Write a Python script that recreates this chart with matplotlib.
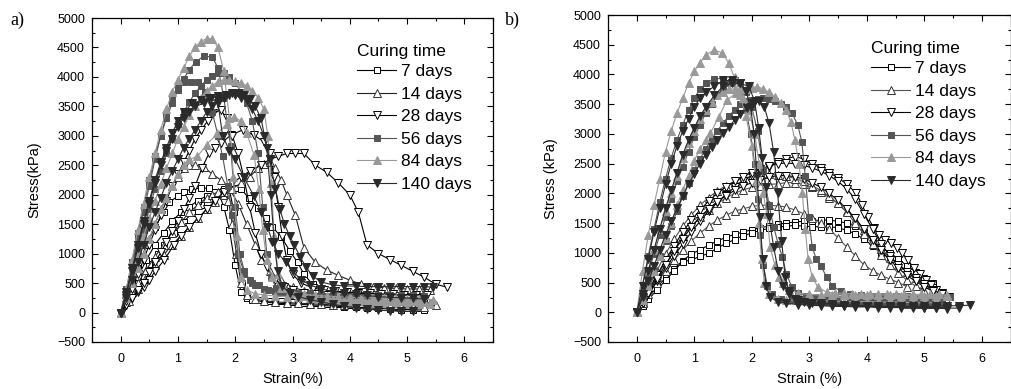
import matplotlib
matplotlib.use("Agg")
import matplotlib.pyplot as plt
from matplotlib.ticker import MultipleLocator

plt.rcParams['font.family'] = ['Liberation Sans', 'DejaVu Sans']

# ---------------- DATA: panel a ----------------
a_7d_strain = [
    [0,0.15,0.3,0.45,0.6,0.75,0.85,1.0,1.1,1.25,1.4,1.55,1.7,1.8,1.9,2.0,2.1,2.2,2.4,2.6,2.8,3.0,3.2,3.4,3.6,3.8,4.0,4.2,4.4,4.6,4.8,5.0,5.2],
    [0,0.15,0.3,0.5,0.65,0.76,0.93,1.1,1.25,1.4,1.55,1.7,1.85,2.01,2.1,2.24,2.4,2.53,2.65,2.8,2.95,3.09,3.2,3.35,3.5,3.7,3.9,4.1,4.3,4.5,4.7,4.9,5.1,5.3],
    [0,0.15,0.3,0.45,0.6,0.75,0.9,1.05,1.2,1.35,1.5,1.65,1.8,1.9,1.98,2.05,2.12,2.2,2.3,2.5,2.7,2.9,3.1,3.3,3.5,3.7,3.9,4.1,4.3,4.5,4.7,4.9,5.1,5.3],
]
a_7d_stress = [
    [0,350,750,1150,1450,1700,1870,1980,2050,2100,2110,2110,2050,1800,1400,800,350,250,220,200,190,180,170,160,150,140,130,120,110,100,90,80,70],
    [0,250,550,830,1000,1150,1350,1540,1690,1820,1930,2020,2080,2110,2100,1940,1780,1600,1450,1290,1050,850,650,480,400,350,320,300,290,280,270,260,250,240],
    [0,300,600,900,1150,1350,1550,1700,1800,1900,1980,2050,2100,2080,1700,1000,500,300,220,180,160,150,140,130,120,110,100,90,80,70,60,50,50,40],
]
a_14d_strain = [
    [0,0.1,0.2,0.3,0.4,0.5,0.6,0.7,0.8,0.9,1.0,1.1,1.2,1.3,1.45,1.6,1.75,1.9,2.05,2.2,2.35,2.45,2.6,2.8,3.0,3.2,3.4,3.6,3.8,4.0,4.2,4.4,4.6,4.8,5.0,5.2,5.4],
    [0,0.15,0.3,0.45,0.6,0.75,0.9,1.05,1.2,1.35,1.5,1.65,1.8,1.95,2.1,2.25,2.4,2.5,2.6,2.7,2.8,2.9,3.05,3.2,3.4,3.6,3.8,4.0,4.2,4.4,4.6,4.8,5.0,5.2,5.4],
    [0,0.1,0.2,0.3,0.45,0.6,0.75,0.9,1.05,1.2,1.35,1.5,1.6,1.7,1.8,1.88,1.95,2.02,2.1,2.2,2.35,2.5,2.7,2.9,3.1,3.3,3.5,3.7,3.9,4.1,4.3,4.5,4.7,4.9,5.1,5.3,5.5],
]
a_14d_stress = [
    [0,250,500,750,1000,1250,1500,1750,1950,2150,2300,2450,2500,2500,2470,2350,2250,2100,1850,1500,1150,900,700,550,430,370,330,300,280,260,240,220,200,190,180,170,160],
    [0,200,400,600,800,980,1150,1300,1450,1600,1750,1880,2000,2100,2200,2300,2450,2520,2550,2450,2250,2000,1650,1100,850,720,630,550,480,440,420,410,400,400,390],
    [0,180,350,500,730,950,1150,1350,1530,1700,1830,1950,2000,2050,2050,1900,1500,1000,500,300,230,200,180,170,160,150,140,130,125,120,115,110,105,100,100,100,120],
]
a_28d_strain = [
    [0,0.1,0.2,0.3,0.41,0.5,0.6,0.76,0.93,1.05,1.2,1.35,1.5,1.65,1.8,1.95,2.1,2.25,2.45,2.6,2.75,2.9,3.05,3.2,3.4,3.6,3.8,4.0,4.15,4.3,4.5,4.7,4.9,5.1,5.3,5.5,5.7],
    [0,0.1,0.2,0.3,0.4,0.5,0.6,0.7,0.8,0.9,1.0,1.1,1.2,1.3,1.42,1.54,1.65,1.75,1.92,2.13,2.33,2.5,2.6,2.68,2.75,2.82,2.9,3.0,3.15,3.35,3.55,3.75,3.95,4.15,4.35,4.55,4.75,4.95,5.15,5.35],
    [0,0.1,0.2,0.3,0.4,0.5,0.6,0.7,0.8,0.9,1.0,1.1,1.2,1.3,1.4,1.52,1.62,1.75,1.85,1.95,2.05,2.15,2.25,2.35,2.45,2.55,2.7,2.85,3.0,3.2,3.4,3.6,3.8,4.0,4.2,4.4,4.6,4.8,5.0,5.2],
]
a_28d_stress = [
    [0,120,250,350,440,550,700,890,1150,1300,1450,1600,1750,1900,2050,2200,2300,2400,2500,2600,2650,2700,2700,2700,2500,2380,2200,2000,1700,1150,1000,900,800,700,600,480,430],
    [0,130,250,380,500,680,850,1020,1200,1380,1550,1750,1950,2150,2450,2700,2800,2870,3010,3100,3010,2900,2700,2300,1800,1300,900,650,500,420,380,360,350,340,330,320,310,300,300,290],
    [0,200,400,650,900,1150,1400,1650,1900,2150,2350,2550,2750,2950,3100,3250,3380,3440,3300,3000,2700,2300,1800,1350,1000,780,560,440,380,340,320,300,290,280,270,260,250,250,240,240],
]
a_56d_strain = [
    [0,0.1,0.2,0.3,0.4,0.5,0.6,0.7,0.8,0.9,1.0,1.1,1.2,1.31,1.45,1.6,1.7,1.8,1.92,2.0,2.08,2.16,2.25,2.35,2.5,2.7,2.9,3.1,3.3,3.5,3.7,3.9,4.1,4.3,4.5,4.7,4.9,5.1,5.3],
    [0,0.1,0.2,0.3,0.4,0.5,0.6,0.7,0.8,0.9,1.0,1.1,1.22,1.35,1.48,1.6,1.7,1.78,1.87,1.95,2.05,2.16,2.3,2.42,2.57,2.75,2.95,3.15,3.35,3.55,3.75,3.95,4.15,4.35,4.55,4.75,4.95,5.15],
    [0,0.1,0.2,0.3,0.4,0.5,0.6,0.7,0.8,0.9,1.0,1.1,1.2,1.3,1.4,1.5,1.6,1.7,1.8,1.9,2.0,2.1,2.2,2.3,2.4,2.48,2.55,2.62,2.72,2.85,3.0,3.2,3.4,3.6,3.8,4.0,4.2,4.4,4.6,4.8,5.0,5.2],
]
a_56d_stress = [
    [0,400,850,1350,1800,2250,2650,3000,3300,3550,3780,3970,4120,4260,4350,4340,4150,3650,2820,1800,1000,700,560,470,400,370,350,340,330,320,320,310,310,300,300,300,290,290,280],
    [0,350,800,1250,1700,2150,2600,3000,3350,3650,3850,3920,3920,3920,3750,3400,3000,2650,2150,1650,1000,660,500,460,380,330,300,280,260,250,240,230,220,210,200,200,190,190],
    [0,350,700,1050,1400,1750,2100,2400,2700,2950,3200,3400,3580,3720,3850,3950,4020,4060,4060,4000,3900,3750,3550,3250,2700,1800,1000,600,420,350,310,290,270,260,250,240,230,220,210,200,200,190],
]
a_84d_strain = [
    [0,0.1,0.2,0.3,0.4,0.5,0.6,0.7,0.8,0.9,1.0,1.1,1.2,1.3,1.4,1.5,1.6,1.7,1.8,1.9,1.97,2.03,2.1,2.2,2.35,2.5,2.7,2.9,3.1,3.3,3.5,3.7,3.9,4.1,4.3,4.5,4.7,4.9,5.1,5.3],
    [0,0.1,0.2,0.3,0.4,0.5,0.6,0.7,0.8,0.9,1.0,1.1,1.2,1.3,1.4,1.5,1.6,1.7,1.8,1.9,2.0,2.1,2.2,2.3,2.4,2.5,2.57,2.63,2.68,2.75,2.85,3.0,3.2,3.4,3.6,3.8,4.0,4.2,4.4,4.6,4.8,5.0,5.2,5.45],
    [0,0.1,0.2,0.3,0.4,0.5,0.6,0.7,0.8,0.9,1.0,1.1,1.2,1.34,1.5,1.69,1.85,1.98,2.1,2.2,2.33,2.41,2.48,2.55,2.65,2.8,3.0,3.2,3.4,3.6,3.8,4.0,4.2,4.4,4.6,4.8,5.0,5.2,5.4],
]
a_84d_stress = [
    [0,400,900,1400,1850,2300,2700,3100,3450,3750,3950,4150,4350,4500,4600,4650,4650,4500,4100,3300,2300,1300,600,380,320,300,280,270,260,250,240,230,220,210,210,200,200,190,190,180],
    [0,330,650,980,1300,1600,1900,2180,2450,2700,2950,3150,3350,3500,3650,3760,3850,3920,3950,3950,3930,3900,3850,3760,3650,3450,3000,2200,1300,650,420,340,310,290,280,270,260,250,250,240,240,230,230,220],
    [0,250,500,750,1000,1250,1500,1750,1950,2150,2350,2500,2600,2650,2850,3040,3200,3320,3250,3050,2670,2100,1400,900,600,420,330,280,250,230,210,200,190,180,170,160,150,150,140],
]
a_140d_strain = [
    [0,0.1,0.2,0.3,0.4,0.5,0.6,0.7,0.8,0.9,1.0,1.1,1.2,1.3,1.45,1.57,1.7,1.84,1.94,2.04,2.15,2.25,2.35,2.45,2.55,2.62,2.68,2.74,2.82,2.95,3.1,3.3,3.5,3.7,3.9,4.1,4.3,4.5,4.7,4.9,5.1],
    [0,0.1,0.2,0.3,0.4,0.5,0.6,0.7,0.8,0.9,1.0,1.1,1.25,1.4,1.55,1.7,1.78,1.9,2.0,2.15,2.33,2.45,2.56,2.65,2.75,2.88,3.0,3.15,3.3,3.5,3.7,3.9,4.1,4.3,4.5,4.7,4.9,5.1,5.3],
    [0,0.1,0.2,0.3,0.4,0.5,0.6,0.7,0.8,0.9,1.0,1.1,1.2,1.3,1.4,1.5,1.6,1.7,1.8,1.9,2.0,2.1,2.2,2.3,2.4,2.5,2.6,2.7,2.78,2.86,2.95,3.03,3.13,3.23,3.35,3.5,3.7,3.9,4.1,4.3,4.5,4.7,4.9,5.1,5.3,5.45],
]
a_140d_stress = [
    [0,300,700,1100,1500,1850,2200,2500,2750,2950,3150,3300,3400,3500,3550,3640,3680,3700,3720,3720,3690,3620,3500,3300,2800,2000,1200,700,450,330,270,220,180,140,110,80,60,40,30,20,20],
    [0,350,750,1150,1550,1900,2250,2550,2800,3050,3250,3400,3550,3600,3650,3550,3000,2750,2600,2300,1970,1700,1460,1200,1000,860,700,560,470,400,360,330,310,290,270,260,250,240,230],
    [0,250,550,850,1150,1450,1700,1950,2200,2400,2600,2800,2950,3100,3250,3400,3500,3600,3650,3700,3700,3650,3600,3450,3250,3000,2600,2100,1750,1500,1300,1150,950,780,620,520,470,450,450,440,440,440,440,440,440,430],
]

# ---------------- DATA: panel b ----------------
b_7d_strain = [
    [0,0.1,0.2,0.35,0.5,0.65,0.8,0.95,1.1,1.25,1.4,1.55,1.7,1.85,2.0,2.15,2.3,2.45,2.6,2.75,2.9,3.05,3.2,3.35,3.5,3.65,3.8,3.95,4.1,4.25,4.4,4.55,4.7,4.85,5.0,5.15],
    [0,0.1,0.2,0.35,0.5,0.65,0.8,0.95,1.1,1.25,1.4,1.55,1.7,1.85,2.0,2.15,2.3,2.45,2.6,2.75,2.9,3.05,3.2,3.35,3.5,3.65,3.8,3.95,4.1,4.25,4.4,4.55,4.7,4.85,5.0,5.15],
]
b_7d_stress = [
    [0,120,250,420,580,730,870,980,1050,1130,1200,1260,1310,1350,1390,1420,1450,1480,1500,1520,1530,1540,1550,1550,1530,1500,1450,1350,1200,1100,1000,900,780,680,580,500],
    [0,100,220,370,540,700,850,880,940,990,1080,1160,1220,1290,1330,1380,1410,1430,1450,1460,1450,1440,1440,1440,1420,1380,1320,1230,1120,1000,900,800,700,600,500,420],
]
b_14d_strain = [
    [0,0.1,0.2,0.35,0.5,0.65,0.8,0.95,1.1,1.25,1.4,1.55,1.7,1.85,2.0,2.15,2.3,2.45,2.6,2.75,2.9,3.05,3.2,3.35,3.5,3.65,3.8,3.95,4.1,4.25,4.4,4.55,4.7,4.85,5.0,5.15],
    [0,0.1,0.2,0.35,0.5,0.65,0.8,0.95,1.1,1.25,1.4,1.55,1.7,1.85,2.0,2.15,2.3,2.45,2.6,2.75,2.9,3.05,3.2,3.35,3.5,3.65,3.8,3.95,4.1,4.25,4.4,4.55,4.7],
    [0,0.1,0.2,0.35,0.5,0.65,0.8,0.95,1.1,1.25,1.4,1.55,1.7,1.85,2.0,2.15,2.3,2.45,2.6,2.75,2.9,3.05,3.2,3.35,3.5,3.65,3.8,3.95,4.1,4.25,4.4,4.55,4.7,4.85,5.0],
]
b_14d_stress = [
    [0,180,350,600,850,1080,1280,1450,1600,1720,1830,1920,2000,2060,2100,2130,2150,2160,2180,2180,2150,2100,2020,1930,1830,1700,1550,1380,1220,1060,920,800,680,570,470,380],
    [0,150,300,500,700,880,1050,1200,1330,1450,1550,1630,1700,1740,1780,1800,1800,1790,1770,1720,1660,1590,1500,1400,1250,1100,950,800,700,620,560,500,430],
    [0,200,400,700,980,1230,1450,1640,1800,1930,2040,2130,2200,2250,2290,2310,2320,2310,2290,2250,2200,2130,2050,1950,1830,1680,1500,1320,1140,960,800,660,540,440,360],
]
b_28d_strain = [
    [0,0.1,0.2,0.35,0.5,0.65,0.8,0.95,1.1,1.25,1.4,1.55,1.7,1.85,2.0,2.15,2.3,2.45,2.6,2.75,2.9,3.05,3.2,3.35,3.5,3.65,3.82,3.92,4.02,4.12,4.22,4.32,4.42,4.52,4.62,4.72,4.82,4.92,5.03,5.12,5.2,5.3,5.43],
    [0,0.1,0.2,0.35,0.5,0.65,0.8,0.95,1.1,1.25,1.4,1.55,1.7,1.85,2.0,2.15,2.3,2.45,2.6,2.75,2.9,3.05,3.2,3.35,3.5,3.65,3.8,3.95,4.1,4.25,4.4,4.55,4.7,4.85,5.0,5.15,5.3],
    [0,0.1,0.2,0.35,0.5,0.65,0.8,0.95,1.1,1.25,1.4,1.55,1.7,1.85,2.0,2.15,2.3,2.45,2.6,2.75,2.9,3.05,3.2,3.35,3.5,3.65,3.8,3.95,4.1,4.25,4.4,4.55,4.7,4.85,5.0,5.15],
]
b_28d_stress = [
    [0,150,300,520,750,950,1150,1350,1530,1700,1850,1980,2100,2200,2300,2380,2450,2520,2580,2620,2580,2500,2430,2350,2260,2160,2000,1800,1600,1420,1300,1220,1160,1080,990,880,740,640,543,460,375,320,263],
    [0,180,370,620,880,1120,1350,1550,1720,1870,2000,2110,2200,2280,2350,2410,2460,2500,2510,2500,2470,2430,2370,2300,2200,2080,1900,1650,1400,1150,950,800,680,570,470,380,300],
    [0,160,330,560,800,1030,1240,1430,1600,1740,1860,1960,2050,2120,2180,2230,2270,2300,2300,2280,2240,2180,2100,2000,1880,1740,1580,1400,1220,1040,880,740,620,520,430,350],
]
b_56d_strain = [
    [0,0.1,0.2,0.3,0.4,0.5,0.6,0.7,0.8,0.9,1.0,1.1,1.2,1.35,1.5,1.65,1.8,1.9,1.98,2.05,2.1,2.15,2.2,2.27,2.35,2.5,2.7,2.9,3.1,3.3,3.5,3.7,3.9,4.1,4.3,4.5,4.7,4.9,5.1,5.3],
    [0,0.1,0.2,0.3,0.4,0.5,0.6,0.7,0.8,0.9,1.0,1.1,1.2,1.3,1.4,1.5,1.6,1.7,1.8,1.9,2.0,2.1,2.2,2.3,2.4,2.5,2.6,2.7,2.8,2.87,2.93,2.99,3.05,3.12,3.2,3.3,3.4,3.55,3.7,3.9,4.1,4.3,4.5,4.7,4.9,5.1,5.3,5.45],
    [0,0.1,0.2,0.3,0.4,0.5,0.6,0.7,0.8,0.9,1.0,1.1,1.2,1.3,1.4,1.5,1.6,1.7,1.8,1.9,2.0,2.1,2.2,2.3,2.38,2.46,2.53,2.6,2.7,2.8,2.95,3.1,3.3,3.5,3.7,3.9,4.1,4.3,4.5,4.7,4.9,5.1,5.3],
]
b_56d_stress = [
    [0,450,950,1400,1850,2250,2600,2900,3150,3400,3600,3750,3850,3930,3930,3850,3650,3400,3000,2500,1900,1300,800,450,300,220,200,190,180,170,160,160,150,150,140,140,130,130,120,120],
    [0,230,450,700,950,1200,1450,1700,1950,2180,2400,2580,2750,2900,3050,3180,3300,3400,3500,3550,3570,3590,3600,3590,3560,3500,3450,3350,3150,2870,2300,1600,1100,900,780,600,450,350,300,290,280,280,270,270,260,260,250,250],
    [0,320,650,980,1300,1600,1900,2200,2450,2700,2950,3150,3350,3500,3650,3780,3850,3900,3850,3700,3450,3050,2400,1800,1440,1150,935,650,420,330,270,250,230,220,210,200,200,190,190,180,180,170,170],
]
b_84d_strain = [
    [0,0.1,0.2,0.3,0.4,0.5,0.6,0.7,0.8,0.9,1.0,1.1,1.2,1.35,1.49,1.6,1.7,1.8,1.9,2.0,2.07,2.12,2.17,2.22,2.3,2.45,2.6,2.8,3.0,3.2,3.4,3.6,3.8,4.0,4.2,4.4,4.6,4.8,5.0,5.2],
    [0,0.1,0.2,0.3,0.4,0.5,0.6,0.7,0.8,0.9,1.0,1.1,1.2,1.3,1.4,1.5,1.6,1.7,1.8,1.9,2.0,2.09,2.2,2.3,2.4,2.5,2.6,2.68,2.75,2.82,2.88,2.93,2.98,3.05,3.15,3.3,3.45,3.6,3.75,3.9,4.05,4.2,4.35,4.5,4.65,4.8,4.95,5.1,5.25,5.4],
    [0,0.1,0.2,0.3,0.4,0.5,0.6,0.7,0.8,0.9,1.0,1.1,1.2,1.28,1.43,1.57,1.72,1.85,1.95,2.05,2.13,2.2,2.26,2.32,2.4,2.48,2.55,2.65,2.8,3.0,3.2,3.4,3.6,3.8,4.0,4.2,4.4,4.6,4.8,5.0,5.2,5.4],
]
b_84d_stress = [
    [0,700,1300,1800,2250,2700,3050,3350,3600,3850,4050,4200,4330,4410,4360,4190,3950,3650,3300,2800,2200,1500,900,500,300,230,210,200,200,190,190,180,180,180,170,170,170,160,160,160],
    [0,350,700,1050,1400,1700,2000,2300,2600,2850,3050,3250,3400,3530,3650,3700,3750,3760,3750,3760,3780,3790,3760,3700,3620,3520,3400,3200,2900,2500,2000,1400,900,600,420,340,320,320,310,310,310,310,310,310,300,300,300,300,300,290],
    [0,200,450,700,950,1250,1500,1800,2050,2300,2550,2750,2900,3010,3290,3570,3680,3600,3400,3000,2500,2000,1660,1100,800,600,490,380,320,300,290,290,290,290,290,290,290,280,280,280,280,270],
]
b_140d_strain = [
    [0,0.1,0.2,0.3,0.4,0.5,0.6,0.7,0.8,0.9,1.0,1.1,1.2,1.35,1.5,1.65,1.8,1.9,1.98,2.04,2.09,2.14,2.19,2.25,2.32,2.45,2.6,2.8,3.0,3.2,3.4,3.6,3.8,4.0,4.2,4.4,4.6,4.8,5.0,5.2,5.4],
    [0,0.1,0.2,0.3,0.4,0.5,0.6,0.7,0.8,0.9,1.0,1.1,1.2,1.3,1.4,1.5,1.6,1.7,1.8,1.92,2.02,2.12,2.22,2.3,2.38,2.45,2.52,2.58,2.65,2.75,2.9,3.05,3.2,3.4,3.6,3.8,4.0,4.2,4.4,4.6,4.8,5.0,5.2,5.4,5.6],
    [0,0.1,0.2,0.3,0.4,0.5,0.6,0.7,0.8,0.9,1.0,1.1,1.2,1.35,1.5,1.65,1.8,1.95,2.05,2.12,2.18,2.24,2.3,2.38,2.46,2.55,2.65,2.8,3.0,3.2,3.4,3.6,3.8,4.0,4.2,4.4,4.6,4.8,5.0,5.2,5.4,5.6,5.8],
]
b_140d_stress = [
    [0,450,900,1350,1750,2150,2500,2800,3050,3250,3450,3600,3700,3800,3900,3900,3850,3720,3450,3000,2300,1600,900,450,250,180,150,130,120,110,100,100,90,90,80,80,80,70,70,70,60],
    [0,250,520,780,1050,1300,1530,1750,1950,2150,2330,2500,2650,2780,2900,3010,3120,3230,3330,3430,3520,3560,3450,3180,2700,2000,1200,600,350,220,180,160,150,140,130,120,110,100,100,90,90,80,80,70,70],
    [0,300,700,1050,1400,1750,2050,2350,2650,2900,3100,3300,3450,3650,3800,3850,3850,3800,3550,3100,2600,2100,1600,1100,700,450,300,200,150,130,120,110,100,100,100,100,100,100,100,100,110,110,120],
]

labels = ['7 days', '14 days', '28 days', '56 days', '84 days', '140 days']
x_ticks = [0, 1, 2, 3, 4, 5, 6]
y_ticks = [-500, 0, 500, 1000, 1500, 2000, 2500, 3000, 3500, 4000, 4500, 5000]

panel_a = [(a_7d_strain, a_7d_stress), (a_14d_strain, a_14d_stress), (a_28d_strain, a_28d_stress),
           (a_56d_strain, a_56d_stress), (a_84d_strain, a_84d_stress), (a_140d_strain, a_140d_stress)]
panel_b = [(b_7d_strain, b_7d_stress), (b_14d_strain, b_14d_stress), (b_28d_strain, b_28d_stress),
           (b_56d_strain, b_56d_stress), (b_84d_strain, b_84d_stress), (b_140d_strain, b_140d_stress)]

def styles(line14):
    return [
        dict(marker='s', mfc='white', mec='black', color='black', ms=4.2),
        dict(marker='^', mfc='white', mec='#333333', color=line14, ms=5.2),
        dict(marker='v', mfc='white', mec='black', color='black', ms=5.2),
        dict(marker='s', mfc='#555555', mec='#555555', color='#555555', ms=4.2),
        dict(marker='^', mfc='#999999', mec='#999999', color='#999999', ms=5.2),
        dict(marker='v', mfc='#2a2a2a', mec='#2a2a2a', color='#2a2a2a', ms=5.2),
    ]

W, H = 1011, 389
fig = plt.figure(figsize=(W / 100, H / 100), dpi=100)

def px_axes(l, r, t, b):
    return fig.add_axes([l / W, 1 - b / H, (r - l) / W, (b - t) / H])

def draw(ax, panel, stl, xlabel, ylabel, leg_xy):
    handles = []
    for (sx, sy), st, lab in zip(panel, stl, labels):
        for i, (xs, ys) in enumerate(zip(sx, sy)):
            ln, = ax.plot(xs, ys, lw=0.8, mew=0.7, label=lab if i == 0 else None, **st)
            if i == 0:
                handles.append(ln)
    ax.set_xlim(-0.5, 6.5)
    ax.set_ylim(-500, 5000)
    ax.set_xticks(x_ticks)
    ax.set_yticks(y_ticks)
    ax.xaxis.set_minor_locator(MultipleLocator(0.5))
    ax.yaxis.set_minor_locator(MultipleLocator(250))
    ax.tick_params(which='both', direction='in', top=True, right=True, labelsize=9, width=0.8)
    ax.tick_params(which='major', length=4)
    ax.tick_params(which='minor', length=2)
    ax.tick_params(axis='x', which='major', pad=8)
    ax.tick_params(axis='y', which='major', pad=5)
    for sp in ax.spines.values():
        sp.set_linewidth(0.9)
    ax.set_xlabel(xlabel, fontsize=10.5, labelpad=5)
    ax.set_ylabel(ylabel, fontsize=10.5, labelpad=11)
    leg = ax.legend(handles=handles, title='Curing time', loc='upper left',
                    bbox_to_anchor=(leg_xy[0] / W, 1 - leg_xy[1] / H), bbox_transform=fig.transFigure,
                    frameon=False, fontsize=12.5, title_fontsize=12.5, handlelength=2.25,
                    handletextpad=0.3, labelspacing=0.42, borderpad=0, borderaxespad=0,
                    alignment='left')
    leg.get_title().set_position((0, -2))
    return leg

axa = px_axes(92, 493, 18, 342)
draw(axa, panel_a, styles('#222222'), 'Strain(%)', 'Stress(kPa)', (357, 42))
axb = px_axes(608, 1010.5, 15, 342)
draw(axb, panel_b, styles('#555555'), 'Strain (%)', 'Stress (kPa)', (871, 39))

fig.text(10 / W, 1 - 20 / H, 'a)', family='Liberation Serif', fontsize=13, va='center', ha='left')
fig.text(505 / W, 1 - 20 / H, 'b)', family='Liberation Serif', fontsize=13, va='center', ha='left')

fig.savefig('out.png', dpi=100)
